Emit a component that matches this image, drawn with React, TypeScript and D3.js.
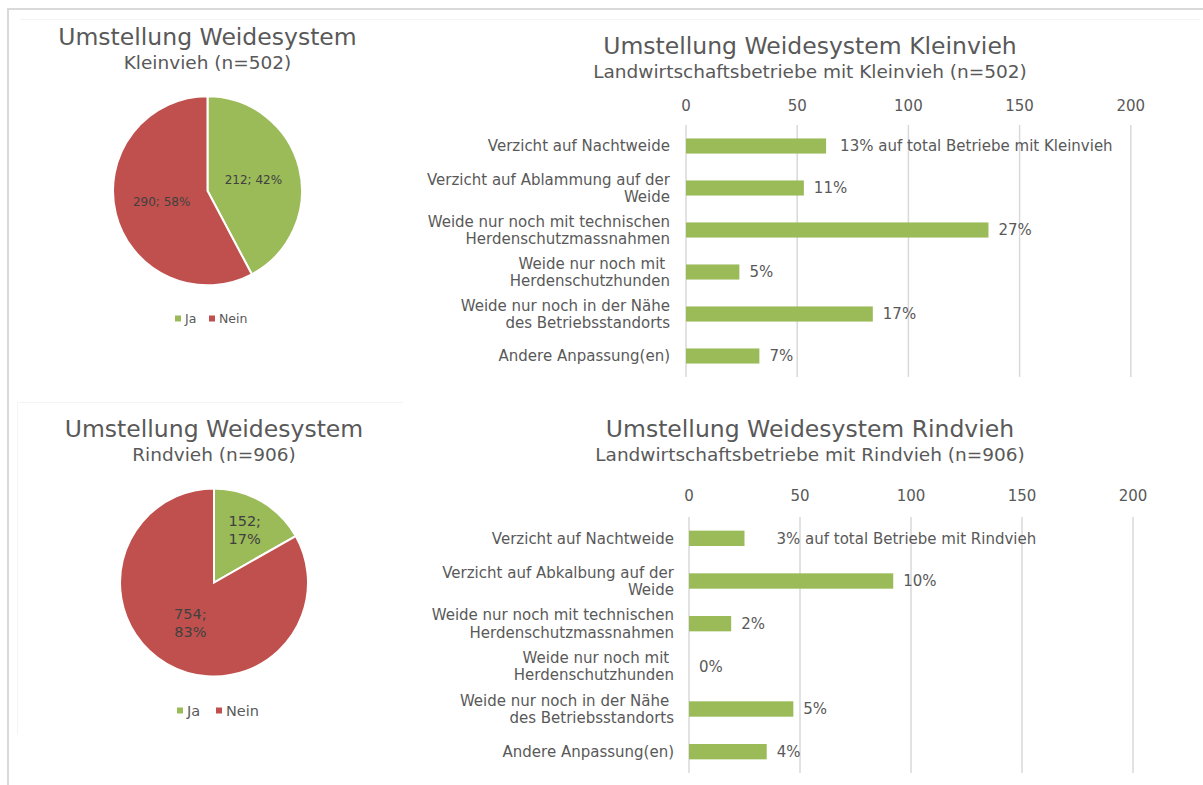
import React, { useEffect, useRef } from "react";
import * as d3 from "d3";

// Pie data
const pieLabels = ["Ja", "Nein"];
const kleinviehPie = [212, 290];
const rindviehPie = [152, 754];

// Bar data (Anzahl Betriebe)
const kleinviehCategories = [
  "Verzicht auf Nachtweide",
  "Verzicht auf Ablammung auf der|Weide",
  "Weide nur noch mit technischen|Herdenschutzmassnahmen",
  "Weide nur noch mit |Herdenschutzhunden",
  "Weide nur noch in der Nähe|des Betriebsstandorts",
  "Andere Anpassung(en)",
];
const kleinviehValues = [63, 53, 136, 24, 84, 33];
const kleinviehLabels = ["13% auf total Betriebe mit Kleinvieh", "11%", "27%", "5%", "17%", "7%"];

const rindviehCategories = [
  "Verzicht auf Nachtweide",
  "Verzicht auf Abkalbung auf der|Weide",
  "Weide nur noch mit technischen|Herdenschutzmassnahmen",
  "Weide nur noch mit |Herdenschutzhunden",
  "Weide nur noch in der Nähe |des Betriebsstandorts",
  "Andere Anpassung(en)",
];
const rindviehValues = [25, 92, 19, 0, 47, 35];
const rindviehLabels = ["3% auf total Betriebe mit Rindvieh", "10%", "2%", "0%", "5%", "4%"];

const xTicks = [0, 50, 100, 150, 200];

const GREEN = "#9BBB59";
const RED = "#C0504D";
const TEXT = "#595959";
const FONT = "'DejaVu Sans', Verdana, sans-serif";
const LABEL_SIZE = 15;

function drawPie(svg, cfg) {
  const g = svg.append("g");
  g.append("text").attr("x", cfg.cx).attr("y", cfg.titleY).attr("text-anchor", "middle")
    .attr("font-size", 23.5).attr("fill", TEXT).text("Umstellung Weidesystem");
  g.append("text").attr("x", cfg.cx).attr("y", cfg.titleY + 24).attr("text-anchor", "middle")
    .attr("font-size", 18.5).attr("fill", TEXT).text(cfg.subtitle);

  const arcs = d3.pie().sort(null)(cfg.values);
  const arc = d3.arc().innerRadius(0).outerRadius(cfg.r);
  const total = d3.sum(cfg.values);
  const colors = [GREEN, RED];

  const pg = g.append("g").attr("transform", `translate(${cfg.cx},${cfg.cy})`);
  pg.selectAll("path").data(arcs).enter().append("path")
    .attr("d", arc)
    .attr("fill", (d, i) => colors[i])
    .attr("stroke", "#fff").attr("stroke-width", 2);

  arcs.forEach((d, i) => {
    const lr = cfg.r * cfg.labelR[i];
    const c = d3.arc().innerRadius(lr).outerRadius(lr).centroid(d);
    const txt = `${d.value};${cfg.twoLine ? "|" : " "}${Math.round((d.value / total) * 100)}%`;
    const lines = txt.split("|");
    const t = pg.append("text").attr("text-anchor", "middle").attr("font-size", cfg.labelSize).attr("fill", "#404040");
    lines.forEach((ln, j) => {
      t.append("tspan").attr("x", c[0])
        .attr("y", c[1] + (j - (lines.length - 1) / 2) * cfg.labelSize * 1.25)
        .attr("dy", "0.35em").text(ln);
    });
  });

  // legend
  pieLabels.forEach((lab, i) => {
    const lx = cfg.legendX[i];
    g.append("rect").attr("x", lx).attr("y", cfg.legendY - 3).attr("width", 6).attr("height", 6).attr("fill", colors[i]);
    g.append("text").attr("x", lx + 10).attr("y", cfg.legendY).attr("dy", "0.35em")
      .attr("font-size", cfg.legendSize).attr("fill", TEXT).text(lab);
  });
}

function drawBars(svg, cfg) {
  const g = svg.append("g");
  g.append("text").attr("x", cfg.titleX).attr("y", cfg.titleY).attr("text-anchor", "middle")
    .attr("font-size", 23.5).attr("fill", TEXT).text(cfg.title);
  g.append("text").attr("x", cfg.titleX).attr("y", cfg.titleY + 24).attr("text-anchor", "middle")
    .attr("font-size", 18.5).attr("fill", TEXT).text(cfg.subtitle);

  const x = d3.scaleLinear().domain([0, 200]).range([cfg.x0, cfg.x1]);
  const y = d3.scaleBand().domain(d3.range(cfg.values.length)).range([cfg.y0, cfg.y1])
    .paddingInner(0.64).paddingOuter(0.32);

  // gridlines + ticks
  xTicks.forEach((t) => {
    g.append("line").attr("x1", x(t)).attr("x2", x(t)).attr("y1", cfg.y0).attr("y2", cfg.y1)
      .attr("stroke", "#D9D9D9").attr("stroke-width", 1.5);
    g.append("text").attr("x", x(t)).attr("y", cfg.tickY).attr("dy", "0.35em").attr("text-anchor", "middle")
      .attr("font-size", LABEL_SIZE).attr("fill", TEXT).text(t);
  });

  g.selectAll(".bar").data(cfg.values).enter().append("rect")
    .attr("class", "bar")
    .attr("x", x(0))
    .attr("y", (d, i) => y(i))
    .attr("width", (d) => x(d) - x(0))
    .attr("height", y.bandwidth())
    .attr("fill", GREEN);

  cfg.values.forEach((v, i) => {
    const cy = y(i) + y.bandwidth() / 2;
    g.append("text").attr("x", x(v) + (i === 0 ? cfg.firstLabelDx : 10)).attr("y", cy).attr("dy", "0.35em")
      .attr("font-size", LABEL_SIZE).attr("fill", TEXT).text(cfg.labels[i]);

    const lines = cfg.categories[i].split("|");
    const t = g.append("text").attr("text-anchor", "end").attr("font-size", LABEL_SIZE).attr("fill", TEXT)
      .style("white-space", "pre");
    lines.forEach((ln, j) => {
      t.append("tspan").attr("x", cfg.labelX).attr("y", cy + (j - (lines.length - 1) / 2) * 17.5)
        .attr("dy", "0.35em").text(ln);
    });
  });
}

export default function App() {
  const ref = useRef(null);

  useEffect(() => {
    const svg = d3.select(ref.current).html("").attr("font-family", FONT);

    svg.append("rect").attr("width", 1203).attr("height", 785).attr("fill", "#fff");

    // frame lines
    svg.append("line").attr("x1", 7).attr("x2", 1203).attr("y1", 9).attr("y2", 9).attr("stroke", "#D9D9D9").attr("stroke-width", 2);
    svg.append("line").attr("x1", 8).attr("x2", 8).attr("y1", 9).attr("y2", 785).attr("stroke", "#D9D9D9").attr("stroke-width", 2);
    svg.append("line").attr("x1", 20).attr("x2", 1200).attr("y1", 19.5).attr("y2", 19.5).attr("stroke", "#F4F4F4").attr("stroke-width", 1);
    svg.append("line").attr("x1", 17).attr("x2", 403).attr("y1", 402.5).attr("y2", 402.5).attr("stroke", "#F4F4F4").attr("stroke-width", 1);
    svg.append("line").attr("x1", 17.5).attr("x2", 17.5).attr("y1", 402).attr("y2", 735).attr("stroke", "#F4F4F4").attr("stroke-width", 1);

    drawPie(svg, {
      cx: 207.5, cy: 190.8, r: 94.5, titleY: 45, subtitle: "Kleinvieh (n=502)",
      values: kleinviehPie, labelR: [0.5, 0.5], labelSize: 12, twoLine: false,
      legendX: [175, 209], legendY: 318.5, legendSize: 12.5,
    });
    drawPie(svg, {
      cx: 214, cy: 582.5, r: 94, titleY: 437, subtitle: "Rindvieh (n=906)",
      values: rindviehPie, labelR: [0.65, 0.5], labelSize: 14.5, twoLine: true,
      legendX: [177, 216], legendY: 710.5, legendSize: 14.5,
    });

    drawBars(svg, {
      title: "Umstellung Weidesystem Kleinvieh",
      subtitle: "Landwirtschaftsbetriebe mit Kleinvieh (n=502)",
      titleX: 810, titleY: 54,
      x0: 686, x1: 1130.8, y0: 125, y1: 377, tickY: 105.5, labelX: 670,
      values: kleinviehValues, labels: kleinviehLabels, categories: kleinviehCategories, firstLabelDx: 14,
    });
    drawBars(svg, {
      title: "Umstellung Weidesystem Rindvieh",
      subtitle: "Landwirtschaftsbetriebe mit Rindvieh (n=906)",
      titleX: 810, titleY: 437,
      x0: 689, x1: 1133, y0: 517, y1: 773, tickY: 496, labelX: 674,
      values: rindviehValues, labels: rindviehLabels, categories: rindviehCategories, firstLabelDx: 32,
    });
  }, []);

  return (
    <svg ref={ref} width={1203} height={785}
      style={{ position: "absolute", left: 0, top: 0, display: "block" }} />
  );
}
